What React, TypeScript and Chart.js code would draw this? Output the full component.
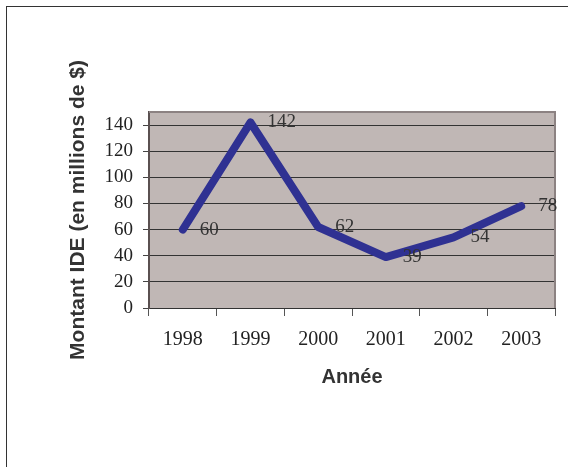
import React, { useEffect, useRef } from "react";
import { Chart, registerables } from "chart.js";

Chart.register(...registerables);

const years = ["1998", "1999", "2000", "2001", "2002", "2003"];
const ideValues = [60, 142, 62, 39, 54, 78];
const yMin = 0;
const yMax = 150;
const yStep = 20;
const xTitle = "Année";
const yTitle = "Montant IDE (en millions de $)";

const SERIF = "'Liberation Serif', 'Times New Roman', serif";
const SANS = "'Liberation Sans', Arial, sans-serif";

export default function App() {
  const ref = useRef<HTMLCanvasElement>(null);

  useEffect(() => {
    if (!ref.current) return;

    const plotFrame = {
      id: "plotFrame",
      beforeDraw(chart: any) {
        const { ctx, chartArea } = chart;
        const { left, top, right, bottom } = chartArea;
        ctx.save();
        ctx.fillStyle = "#c0b7b5";
        ctx.fillRect(left, top, right - left, bottom - top);
        ctx.restore();
      },
      afterDraw(chart: any) {
        const { ctx, chartArea } = chart;
        const { left, top, right, bottom } = chartArea;
        ctx.save();
        ctx.strokeStyle = "#8c8282";
        ctx.lineWidth = 2;
        ctx.beginPath();
        ctx.moveTo(left, top);
        ctx.lineTo(right, top);
        ctx.lineTo(right, bottom);
        ctx.stroke();
        ctx.restore();
      },
    };

    const valueLabels = {
      id: "valueLabels",
      afterDraw(chart: any) {
        const { ctx } = chart;
        const meta = chart.getDatasetMeta(0);
        const data = chart.data.datasets[0].data as number[];
        ctx.save();
        ctx.fillStyle = "#333333";
        ctx.font = `19px ${SERIF}`;
        ctx.textAlign = "left";
        ctx.textBaseline = "middle";
        meta.data.forEach((pt: any, i: number) => {
          ctx.fillText(String(data[i]), pt.x + 17, pt.y);
        });
        ctx.restore();
      },
    };

    const chart = new Chart(ref.current, {
      type: "line",
      data: {
        labels: years,
        datasets: [
          {
            data: ideValues,
            borderColor: "#2f3192",
            backgroundColor: "#2f3192",
            borderWidth: 8,
            pointRadius: 0,
            pointHoverRadius: 0,
            tension: 0,
            fill: false,
            borderCapStyle: "round",
            borderJoinStyle: "round",
          },
        ],
      },
      options: {
        responsive: false,
        animation: false,
        events: [],
        layout: { padding: { top: 112, right: 13, left: 0, bottom: 0 } },
        plugins: {
          legend: { display: false },
          tooltip: { enabled: false },
        },
        scales: {
          x: {
            type: "category",
            offset: true,
            grid: {
              offset: true,
              drawOnChartArea: false,
              drawTicks: true,
              tickLength: 8,
              color: "#555555",
              lineWidth: 1,
            },
            border: { display: true, color: "#333333", width: 1 },
            ticks: {
              color: "#222222",
              font: { family: SERIF, size: 20 },
              padding: 12,
              maxRotation: 0,
              autoSkip: false,
            },
            title: {
              display: true,
              text: xTitle,
              color: "#333333",
              font: { family: SANS, size: 20, weight: "bold" },
              padding: { top: 0, bottom: 78 },
            },
            afterFit(scale: any) {
              scale.height = 159;
            },
          },
          y: {
            min: yMin,
            max: yMax,
            ticks: {
              stepSize: yStep,
              includeBounds: false,
              color: "#222222",
              font: { family: SERIF, size: 19 },
              padding: 10,
            },
            grid: {
              color: "#333333",
              lineWidth: 1,
              tickLength: 6,
              tickColor: "#444444",
            },
            border: { display: true, color: "#5a5050", width: 2 },
            title: {
              display: true,
              text: yTitle,
              color: "#333333",
              font: { family: SANS, size: 21, weight: "bold" },
              padding: { top: 66, bottom: 0 },
            },
            afterFit(scale: any) {
              scale.width = 149;
            },
          },
        },
      },
      plugins: [plotFrame, valueLabels],
    } as any);

    return () => chart.destroy();
  }, []);

  return (
    <div
      style={{
        position: "fixed",
        left: 0,
        top: 0,
        width: 568,
        height: 467,
        overflow: "hidden",
        background: "#ffffff",
      }}
    >
      <div
        style={{
          position: "absolute",
          left: 6,
          top: 6,
          width: 640,
          height: 540,
          border: "1px solid #333333",
        }}
      />
      <canvas
        ref={ref}
        width={568}
        height={467}
        style={{ position: "absolute", left: 0, top: 0, width: 568, height: 467 }}
      />
    </div>
  );
}
